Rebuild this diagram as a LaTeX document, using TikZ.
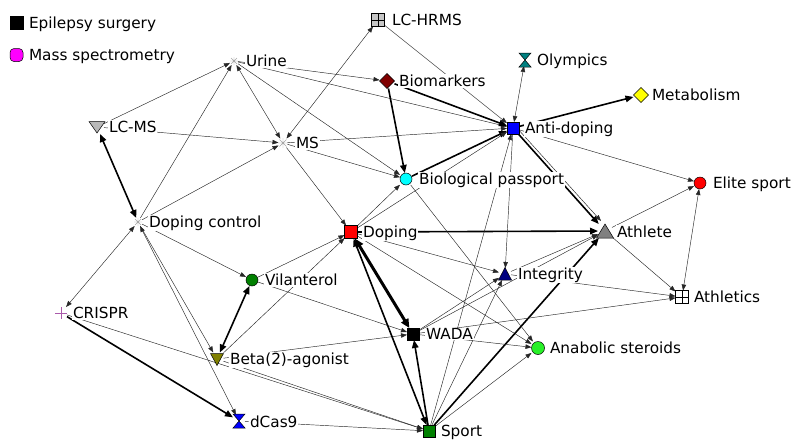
\documentclass[tikz,border=0pt]{standalone}
\usepackage{fontspec}
\setmainfont{DejaVu Sans}
\usetikzlibrary{arrows.meta,shapes.geometric,calc}
\definecolor{cmaroon}{RGB}{128,0,0}
\definecolor{cteal}{RGB}{0,128,128}
\definecolor{cnavy}{RGB}{0,0,128}
\definecolor{cgreen}{RGB}{0,128,0}
\definecolor{colive}{RGB}{128,128,0}
\definecolor{clime}{RGB}{40,240,40}
\definecolor{cpurple}{RGB}{170,90,170}
\definecolor{ccyan}{RGB}{0,255,255}
\definecolor{cmagenta}{RGB}{255,0,255}
\definecolor{cblue}{RGB}{0,0,255}
\definecolor{cred}{RGB}{255,0,0}
\definecolor{cyellow}{RGB}{255,255,0}
\begin{document}
\begin{tikzpicture}[x=1pt,y=-1pt,
  font=\fontsize{15.3}{18}\selectfont,
  mk/.style={rectangle,draw=none,inner sep=0pt,outer sep=0pt,minimum size=#1},
  mk/.default=12,
  lab/.style={anchor=base west,fill=white,inner sep=0.8pt},
  ed/.style={draw=black!85,line width=0.45pt,-{Triangle[length=6pt,width=4.5pt]}},
  edb/.style={draw=black!85,line width=0.45pt,{Triangle[length=6pt,width=4.5pt]}-{Triangle[length=6pt,width=4.5pt]}},
  edT/.style={draw=black,line width=1.6pt,-{Triangle[length=8pt,width=6.5pt]}},
  edTB/.style={draw=black,line width=1.6pt,{Triangle[length=8pt,width=6.5pt]}-{Triangle[length=8pt,width=6.5pt]}},
  edVB/.style={draw=black,line width=3pt,{Triangle[length=9pt,width=8pt]}-{Triangle[length=9pt,width=8pt]}},
  sqm/.style={rectangle,draw=black,line width=0.5pt,inner sep=0pt,outer sep=0pt,minimum size=#1},
  sqm/.default=12,
  cim/.style={circle,draw=black,line width=0.5pt,inner sep=0pt,outer sep=0pt,minimum size=#1},
  cim/.default=12,
  dim/.style={diamond,draw=black,line width=0.5pt,inner sep=0pt,outer sep=0pt,minimum size=#1},
  sh/.style={draw=black,line width=0.5pt},
  star/.style={draw=gray!70,line width=0.4pt},
]
\useasboundingbox (0,0) rectangle (794,440);

% ---------- node anchors (markers) ----------
\node[mk=13] (lchrms) at (378,20) {};
\node[mk=8]  (urine) at (234,61) {};
\node[mk=15] (biom) at (387,81) {};
\node[mk=12] (olymp) at (525,60) {};
\node[mk=15] (metab) at (641,95) {};
\node[mk=12] (ad) at (513,128) {};
\node[mk=14] (lcms) at (97,127) {};
\node[mk=9]  (ms) at (283,143) {};
\node[mk=12] (bp) at (406,179) {};
\node[mk=12] (elite) at (700,183) {};
\node[mk=8]  (dc) at (138,222) {};
\node[mk=13] (doping) at (351,232) {};
\node[mk=14] (athlete) at (605,231) {};
\node[mk=12] (integ) at (505,274) {};
\node[mk=12] (vil) at (252,280) {};
\node[mk=13] (athletics) at (682,297) {};
\node[mk=12] (crispr) at (61,313) {};
\node[mk=12] (wada) at (413,334) {};
\node[mk=13] (anab) at (538,348) {};
\node[mk=13] (beta) at (217,359) {};
\node[mk=12] (dcas) at (239,421) {};
\node[mk=12] (sport) at (429,431) {};

% ---------- edges ----------
\draw[ed] (urine) -- (biom);
\draw[ed] (urine) -- (ad);
\draw[ed] (urine) -- (bp);
\draw[edb] (urine) -- (ms);
\draw[ed] (lcms) -- (urine);
\draw[ed] (dc) -- (urine);
\draw[ed] (lcms) -- (ms);
\draw[edTB] (lcms) -- (dc);
\draw[ed] (dc) -- (vil);
\draw[edb] (dc) -- (dcas);
\draw[ed] (dc) -- (beta);
\draw[edb] (crispr) -- (dc);
\draw[ed] (dc) -- (ms);
\draw[edT] (crispr) -- (dcas);
\draw[ed] (crispr) -- (sport);
\draw[edTB] (vil) -- (beta);
\draw[ed] (vil) -- (doping);
\draw[ed] (vil) -- (wada);
\draw[ed] (beta) -- (doping);
\draw[ed] (beta) -- (wada);
\draw[ed] (beta) -- (sport);
\draw[ed] (dcas) -- (sport);
\draw[ed] (ms) -- (doping);
\draw[ed] (doping) -- (bp);
\draw[edT] (doping) -- (athlete);
\draw[ed] (doping) -- (integ);
\draw[ed] (doping) -- (anab);
\draw[edVB] (doping) -- (wada);
\draw[edTB] (doping) -- (sport);
\draw[edT] (sport) -- (wada);
\draw[edT] (sport) -- (athlete);
\draw[ed] (sport) -- (anab);
\draw[ed] (sport) -- (integ);
\draw[ed] (sport) -- (ad);
\draw[edT] (biom) -- (bp);
\draw[edT] (biom) -- (ad);
\draw[ed] (lchrms) -- (ad);
\draw[edb] (lchrms) -- (ms);
\draw[edb] (olymp) -- (ad);
\draw[edT] (ad) -- (metab);
\draw[edT] (ad) -- (athlete);
\draw[ed] ([xshift=4pt]ad.center) -- ([xshift=3pt,yshift=3pt]athlete.north west);
\draw[edT] (bp) -- (ad);
\draw[ed] (ad) -- (elite);
\draw[ed] (ms) -- (ad);
\draw[ed] (doping) -- (ad);
\draw[ed] (ad) -- (integ);
\draw[ed] (integ) -- (athlete);
\draw[ed] (wada) -- (athlete);
\draw[ed] (athlete) -- (elite);
\draw[ed] (athlete) -- (athletics);
\draw[edb] (athletics) -- (elite);
\draw[ed] (integ) -- (athletics);
\draw[ed] (wada) -- (athletics);
\draw[ed] (wada) -- (anab);
\draw[ed] (wada) -- (integ);
\draw[ed] (bp) -- (anab);
\draw[ed] (ms) -- (bp);

% ---------- marker shapes ----------
\node[sqm=13,fill=gray!45] (lchrms-m) at (lchrms) {};
\draw[line width=0.5pt] (lchrms-m.north) -- (lchrms-m.south) (lchrms-m.west) -- (lchrms-m.east);
\draw[star,shift={(urine)}] (-4,0) -- (4,0) (0,-4) -- (0,4) (-3,-3) -- (3,3) (-3,3) -- (3,-3);
\node[dim=15,fill=cmaroon] (biom-m) at (biom) {};
\filldraw[sh,fill=cteal,shift={(olymp)}] (-6,-7) -- (6,-7) -- (-6,7) -- (6,7) -- cycle;
\node[dim=15,fill=cyellow] (metab-m) at (metab) {};
\node[sqm=12,fill=cblue] (ad-m) at (ad) {};
\filldraw[sh,fill=gray!55,shift={(lcms)}] (-8,-5.5) -- (8,-5.5) -- (0,6) -- cycle;
\draw[star,shift={(ms)}] (-5,0) -- (5,0) (0,-5) -- (0,5) (-3.5,-3.5) -- (3.5,3.5) (-3.5,3.5) -- (3.5,-3.5);
\node[cim=12,fill=ccyan] (bp-m) at (bp) {};
\node[cim=12,fill=cred] (elite-m) at (elite) {};
\draw[star,shift={(dc)}] (-4,0) -- (4,0) (0,-4) -- (0,4) (-3,-3) -- (3,3) (-3,3) -- (3,-3);
\node[sqm=13,fill=cred] (doping-m) at (doping) {};
\filldraw[sh,fill=gray,shift={(athlete)}] (-8.5,7) -- (8.5,7) -- (0,-7) -- cycle;
\filldraw[sh,fill=cnavy,shift={(integ)}] (-6.5,6) -- (6.5,6) -- (0,-6.5) -- cycle;
\node[cim=12,fill=cgreen] (vil-m) at (vil) {};
\node[sqm=13,fill=white] (athletics-m) at (athletics) {};
\draw[line width=0.5pt] (athletics-m.north) -- (athletics-m.south) (athletics-m.west) -- (athletics-m.east);
\draw[draw=cpurple,line width=0.7pt,shift={(crispr)}] (-6,0) -- (6,0) (0,-6) -- (0,6);
\node[sqm=12,fill=black] (wada-m) at (wada) {};
\node[cim=13,fill=clime] (anab-m) at (anab) {};
\filldraw[sh,fill=colive,shift={(beta)}] (-6.5,-5.5) -- (6.5,-5.5) -- (0,6.5) -- cycle;
\filldraw[sh,fill=cblue,shift={(dcas)}] (-6,-7) -- (6,-7) -- (-6,7) -- (6,7) -- cycle;
\node[sqm=12,fill=cgreen] (sport-m) at (sport) {};

% ---------- legend ----------
\node[sqm=13,fill=black] (leg1) at (16.5,22.5) {};
\node[rectangle,rounded corners=4pt,draw=black,line width=0.5pt,fill=cmagenta,minimum size=13pt,inner sep=0pt] (leg2) at (16.5,55) {};
\node[lab] (leg1-l) at (28,28) {Epilepsy surgery};
\node[lab] (leg2-l) at (28,60.5) {Mass spectrometry};

% ---------- labels ----------
\node[lab] (lchrms-l) at (391,25.5) {LC-HRMS};
\node[lab] (urine-l) at (245,66.5) {Urine};
\node[lab] (biom-l) at (398,86.5) {Biomarkers};
\node[lab] (olymp-l) at (536,65.5) {Olympics};
\node[lab] (metab-l) at (651,100.5) {Metabolism};
\node[lab] (ad-l) at (524,133.5) {Anti-doping};
\node[lab] (lcms-l) at (108,132.5) {LC-MS};
\node[lab] (ms-l) at (295,148.5) {MS};
\node[lab] (bp-l) at (418,184.5) {Biological passport};
\node[lab] (elite-l) at (712,188.5) {Elite sport};
\node[lab] (dc-l) at (148,227.5) {Doping control};
\node[lab] (doping-l) at (362,237.5) {Doping};
\node[lab] (athlete-l) at (616,237.5) {Athlete};
\node[lab] (integ-l) at (517,279) {Integrity};
\node[lab] (vil-l) at (264,285.5) {Vilanterol};
\node[lab] (athletics-l) at (693,302.5) {Athletics};
\node[lab] (crispr-l) at (72,318.5) {CRISPR};
\node[lab] (wada-l) at (425,339.5) {WADA};
\node[lab] (anab-l) at (549,353.5) {Anabolic steroids};
\node[lab] (beta-l) at (229,364) {Beta(2)-agonist};
\node[lab] (dcas-l) at (249,427) {dCas9};
\node[lab] (sport-l) at (440,436) {Sport};
\end{tikzpicture}
\end{document}
